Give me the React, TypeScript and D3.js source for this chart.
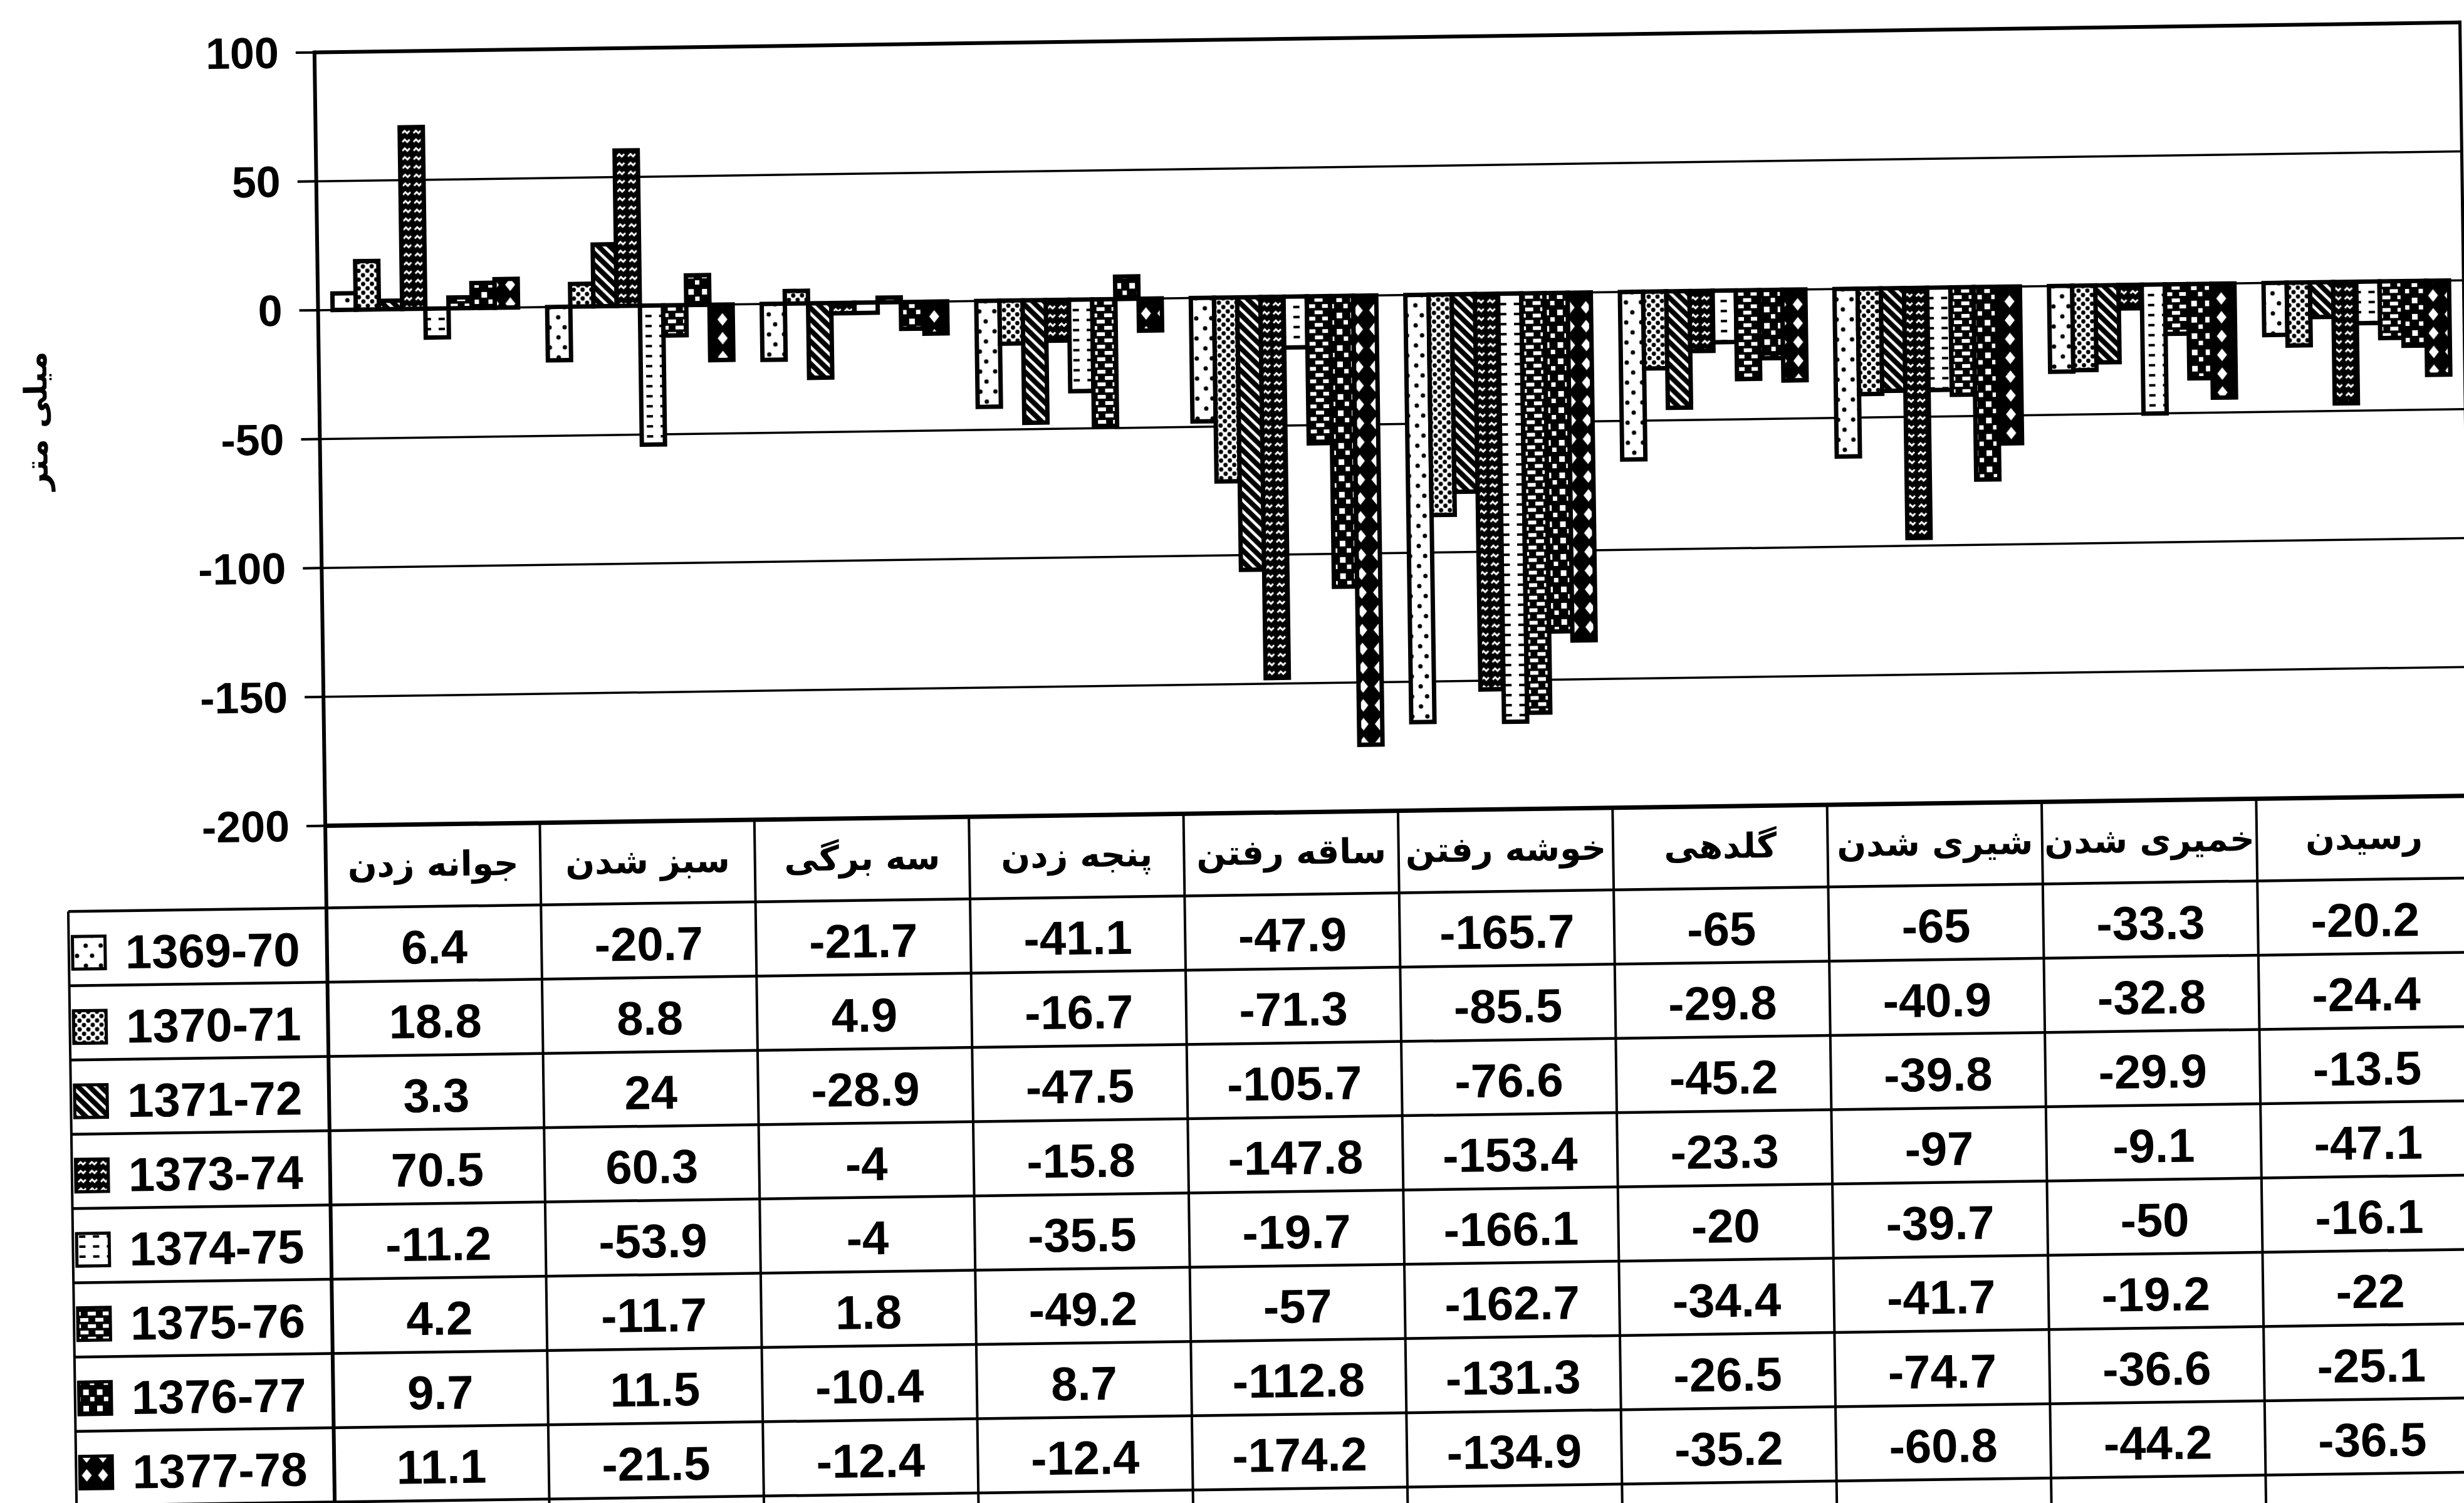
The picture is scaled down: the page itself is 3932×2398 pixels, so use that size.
import React from "react";
import * as d3 from "d3";

const categories = [
  "جوانه زدن",
  "سبز شدن",
  "سه برگی",
  "پنجه زدن",
  "ساقه رفتن",
  "خوشه رفتن",
  "گلدهی",
  "شیری شدن",
  "خمیری شدن",
  "رسیدن",
];
const seriesNames = ["1369-70", "1370-71", "1371-72", "1373-74", "1374-75", "1375-76", "1376-77", "1377-78"];
const s1369 = [6.4, -20.7, -21.7, -41.1, -47.9, -165.7, -65, -65, -33.3, -20.2];
const s1370 = [18.8, 8.8, 4.9, -16.7, -71.3, -85.5, -29.8, -40.9, -32.8, -24.4];
const s1371 = [3.3, 24, -28.9, -47.5, -105.7, -76.6, -45.2, -39.8, -29.9, -13.5];
const s1373 = [70.5, 60.3, -4, -15.8, -147.8, -153.4, -23.3, -97, -9.1, -47.1];
const s1374 = [-11.2, -53.9, -4, -35.5, -19.7, -166.1, -20, -39.7, -50, -16.1];
const s1375 = [4.2, -11.7, 1.8, -49.2, -57, -162.7, -34.4, -41.7, -19.2, -22];
const s1376 = [9.7, 11.5, -10.4, 8.7, -112.8, -131.3, -26.5, -74.7, -36.6, -25.1];
const s1377 = [11.1, -21.5, -12.4, -12.4, -174.2, -134.9, -35.2, -60.8, -44.2, -36.5];
const seriesValues = [s1369, s1370, s1371, s1373, s1374, s1375, s1376, s1377];
const yTicks = [100, 50, 0, -50, -100, -150, -200];
const yTitle = "میلی متر";

const numFont = "'Liberation Sans', Arial, sans-serif";
const faFont = "'DejaVu Sans', sans-serif";

// fill patterns, one per season (scanned b/w print)
const Patterns = () => (
  <defs>
    <pattern id="p0" patternUnits="userSpaceOnUse" width="24" height="32">
      <rect width="24" height="32" fill="#fff" />
      <circle cx="7" cy="8" r="3.5" fill="#000" />
      <circle cx="17" cy="24" r="3.5" fill="#000" />
    </pattern>
    <pattern id="p1" patternUnits="userSpaceOnUse" width="14" height="14">
      <rect width="14" height="14" fill="#fff" />
      <circle cx="3.5" cy="3.5" r="3.4" fill="#000" />
      <circle cx="10.5" cy="10.5" r="3.4" fill="#000" />
    </pattern>
    <pattern id="p2" patternUnits="userSpaceOnUse" width="18" height="18">
      <rect width="18" height="18" fill="#000" />
      <path d="M-4,-4L22,22M-4,14L4,22M14,-4L22,4" stroke="#fff" strokeWidth="4.5" />
    </pattern>
    <pattern id="p3" patternUnits="userSpaceOnUse" width="18" height="14">
      <rect width="18" height="14" fill="#000" />
      <path d="M2,9L6,5L10,9L14,5" stroke="#fff" strokeWidth="3" fill="none" />
    </pattern>
    <pattern id="p4" patternUnits="userSpaceOnUse" width="22" height="16">
      <rect width="22" height="16" fill="#fff" />
      <rect x="0" y="6" width="10" height="4" fill="#000" />
    </pattern>
    <pattern id="p5" patternUnits="userSpaceOnUse" width="24" height="20">
      <rect width="24" height="20" fill="#000" />
      <rect x="2" y="4" width="13" height="6" fill="#fff" />
      <rect x="14" y="14" width="13" height="6" fill="#fff" />
      <rect x="-10" y="14" width="13" height="6" fill="#fff" />
    </pattern>
    <pattern id="p6" patternUnits="userSpaceOnUse" width="22" height="26">
      <rect width="22" height="26" fill="#000" />
      <rect x="3" y="4" width="9" height="9" fill="#fff" />
      <rect x="14" y="16" width="7" height="7" fill="#fff" />
    </pattern>
    <pattern id="p7" patternUnits="userSpaceOnUse" width="26" height="30">
      <rect width="26" height="30" fill="#000" />
      <polygon points="13,5 21,15 13,25 5,15" fill="#fff" />
    </pattern>
  </defs>
);

const App = () => {
  const width = 3932;
  const height = 2398;
  const plotLeft = 512;
  const plotRight = 3936;
  const plotTop = 60;
  const plotBottom = 1294;
  const headerBottom = 1425;
  const rowH = 118.5;
  const labelLeft = 100;

  const y = d3.scaleLinear([-200, 100], [plotBottom, plotTop]);
  const x0 = d3.scaleBand(categories, [plotLeft, plotRight]);
  const x1 = d3.scaleBand(seriesNames, [0, x0.bandwidth()]).paddingOuter(0.627);
  const rowTop = (i: number) => headerBottom + i * rowH;
  const colEdges = categories.map((c) => x0(c) as number).concat(plotRight);

  return (
    <svg width={width} height={height} style={{ position: "absolute", left: 0, top: 0, background: "#fff" }}>
      <Patterns />
      <rect width={width} height={height} fill="#fff" />
      {/* the scan is tilted a little */}
      <g transform="rotate(-0.8 2200 800)">
        <text
          transform={`translate(60,642) rotate(-90)`}
          textAnchor="middle"
          dominantBaseline="central"
          fontFamily={faFont}
          fontWeight="bold"
          fontSize={50}
        >
          {yTitle}
        </text>

        {yTicks.map((t) => (
          <g key={t}>
            <line
              x1={plotLeft}
              x2={plotRight}
              y1={y(t)}
              y2={y(t)}
              stroke="#000"
              strokeWidth={t === 100 ? 6 : t === -200 ? 7 : 3.5}
            />
            <line x1={plotLeft - 30} x2={plotLeft} y1={y(t)} y2={y(t)} stroke="#000" strokeWidth={4} />
            <text
              x={455}
              y={y(t)}
              textAnchor="end"
              dominantBaseline="central"
              fontFamily={numFont}
              fontWeight="bold"
              fontSize={70}
            >
              {t}
            </text>
          </g>
        ))}

        {seriesNames.map((s, si) => (
          <g key={s} fill={`url(#p${si})`} stroke="#000" strokeWidth={7}>
            {categories.map((c, ci) => {
              const v = seriesValues[si][ci];
              return (
                <rect
                  key={c}
                  x={(x0(c) as number) + (x1(s) as number)}
                  y={y(Math.max(v, 0))}
                  width={x1.bandwidth()}
                  height={Math.abs(y(v) - y(0))}
                />
              );
            })}
          </g>
        ))}

        <line x1={plotLeft} x2={plotLeft} y1={plotTop - 3} y2={height + 60} stroke="#000" strokeWidth={6} />
        <line x1={plotRight} x2={plotRight} y1={plotTop - 3} y2={plotBottom} stroke="#000" strokeWidth={5} />

        {/* data table */}
        {colEdges.slice(1).map((xe, i) => (
          <line key={i} x1={xe} x2={xe} y1={plotBottom} y2={height + 60} stroke="#000" strokeWidth={4} />
        ))}
        <line x1={labelLeft} x2={labelLeft} y1={headerBottom} y2={height + 60} stroke="#000" strokeWidth={4} />
        {d3.range(seriesNames.length + 1).map((i) => (
          <line
            key={i}
            x1={labelLeft}
            x2={plotRight + 30}
            y1={rowTop(i)}
            y2={rowTop(i)}
            stroke="#000"
            strokeWidth={4.5}
          />
        ))}
        {categories.map((c) => (
          <text
            key={c}
            x={(x0(c) as number) + x0.bandwidth() / 2}
            y={(plotBottom + headerBottom) / 2 - 2}
            textAnchor="middle"
            dominantBaseline="central"
            fontFamily={faFont}
            fontWeight="bold"
            fontSize={55}
            direction="rtl"
          >
            {c}
          </text>
        ))}
        {seriesNames.map((s, si) => (
          <g key={s}>
            <rect
              x={106}
              y={rowTop(si) + 40}
              width={52}
              height={52}
              fill={`url(#p${si})`}
              stroke="#000"
              strokeWidth={5}
            />
            <text x={190} y={rowTop(si) + 92} fontFamily={numFont} fontWeight="bold" fontSize={76}>
              {s}
            </text>
            {categories.map((c, ci) => (
              <text
                key={c}
                x={(x0(c) as number) + x0.bandwidth() / 2}
                y={rowTop(si) + 91}
                textAnchor="middle"
                fontFamily={numFont}
                fontWeight="bold"
                fontSize={76}
              >
                {seriesValues[si][ci]}
              </text>
            ))}
          </g>
        ))}
      </g>
    </svg>
  );
};

export default App;
